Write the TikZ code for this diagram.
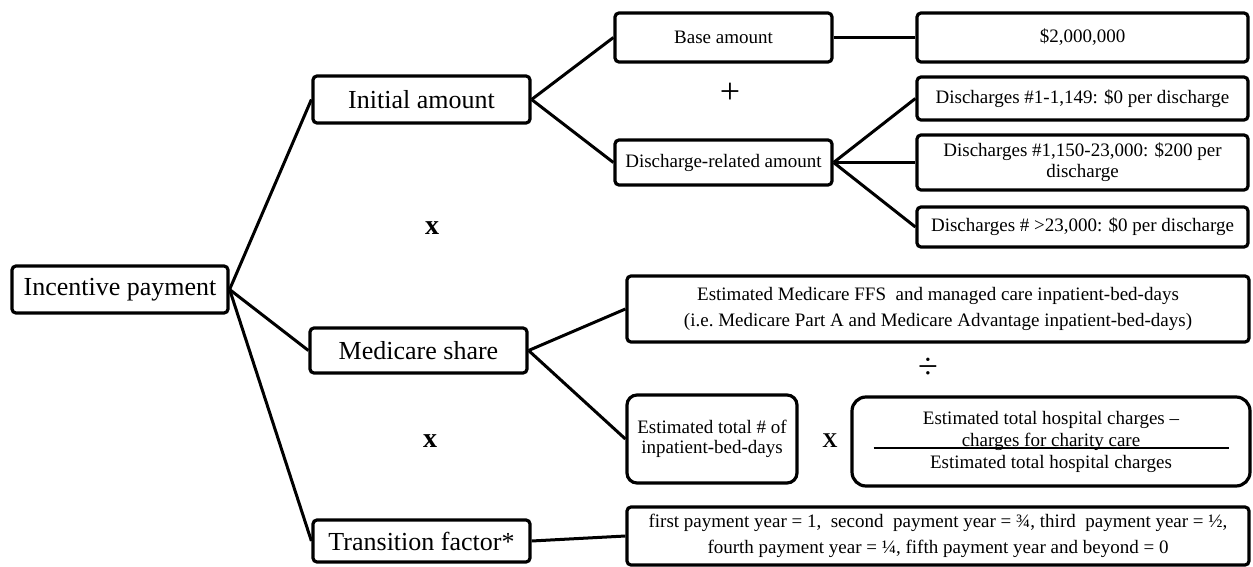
\documentclass[tikz,border=0pt]{standalone}
\usepackage{fontspec}
\setmainfont{Liberation Serif}
\begin{document}
\begin{tikzpicture}[x=1pt,y=-1pt,
  box/.style={draw, line width=3.2pt, rounded corners=4pt, align=center, inner sep=0pt, fill=white},
  big/.style={font=\fontsize{26}{30}\selectfont},
  sm/.style={font=\fontsize{19}{21}\selectfont},
  wide/.style={font=\fontsize{19}{26}\selectfont},
  link/.style={line width=3pt},
  op/.style={inner sep=0pt}
]
\useasboundingbox (0,0) rectangle (1253,567);
\fill[white] (0,0) rectangle (1253,567);

% level 0 and 1
\node[box,big,minimum width=216pt,minimum height=47pt] (inc) at (120,289.5) {Incentive payment};
\node[box,big,minimum width=217pt,minimum height=47pt] (init) at (421.5,99.5) {Initial amount};
\node[box,big,minimum width=217pt,minimum height=45pt] (med) at (418.5,350.5) {Medicare share};
\node[box,big,minimum width=217pt,minimum height=42pt] (trans) at (421.5,541) {Transition factor*};

% initial amount branch
\node[box,sm,minimum width=217pt,minimum height=49pt] (base) at (723.5,37.5) {Base amount};
\node[box,sm,minimum width=217pt,minimum height=45pt] (dra) at (723.5,162.5) {Discharge-related amount};
\node[box,sm,minimum width=331pt,minimum height=49pt] (m2) at (1082.5,37.5) {\$2,000,000};
\node[box,sm,minimum width=331pt,minimum height=43pt] (d1) at (1082.5,98.5) {Discharges \#1-1,149: \$0 per discharge};
\node[box,sm,minimum width=331pt,minimum height=55pt] (d2) at (1082.5,162.5) {Discharges \#1,150-23,000: \$200 per\\discharge};
\node[box,sm,minimum width=331pt,minimum height=40pt] (d3) at (1082.5,227) {Discharges \# >23,000: \$0 per discharge};

% medicare share branch
\node[box,wide,minimum width=622pt,minimum height=66pt] (ffs) at (938,309) {Estimated Medicare FFS\ \ and managed care inpatient-bed-days\\(i.e.\ Medicare Part A\ and Medicare Advantage inpatient-bed-days)};
\node[box,font=\fontsize{19}{20}\selectfont,rounded corners=10pt,minimum width=170pt,minimum height=88pt] (etot) at (712,439) {Estimated total \# of\\inpatient-bed-days};
\node[box,font=\fontsize{19}{22}\selectfont,rounded corners=14pt,minimum width=398pt,minimum height=89pt] (hosp) at (1051,441.5) {Estimated total hospital charges --\\\makebox[355pt]{charges for charity care}\llap{\rule[-2.5pt]{355pt}{2pt}}\\Estimated total hospital charges};

% transition factor
\node[box,wide,minimum width=622pt,minimum height=58pt] (fp) at (938,536) {first payment year = 1,\ \ second\ \ payment year = ¾, third\ \ payment year = ½,\\fourth payment year = ¼, fifth payment year and beyond = 0};

% operators
\node[op,font=\bfseries\fontsize{28}{30}\selectfont] (x1) at (432,228) {x};
\node[op,font=\bfseries\fontsize{28}{30}\selectfont] (x2) at (430,441) {x};
\node[op,font=\bfseries\fontsize{21}{24}\selectfont] (x3) at (830,441) {X};
\node[op,font=\fontsize{36}{38}\selectfont] (plus) at (730,93) {+};
\node[op,font=\fontsize{36}{38}\selectfont] (div) at (928,368) {÷};

% connectors
\draw[link] (inc.east) -- (init.west);
\draw[link] (inc.east) -- (med.west);
\draw[link] (inc.east) -- (trans.west);
\draw[link] (init.east) -- (base.west);
\draw[link] (init.east) -- (dra.west);
\draw[link] (base.east) -- (m2.west);
\draw[link] (dra.east) -- (d1.west);
\draw[link] (dra.east) -- (d2.west);
\draw[link] (dra.east) -- (d3.west);
\draw[link] (med.east) -- (ffs.west);
\draw[link] (med.east) -- (etot.west);
\draw[link] (trans.east) -- (fp.west);
\end{tikzpicture}
\end{document}
